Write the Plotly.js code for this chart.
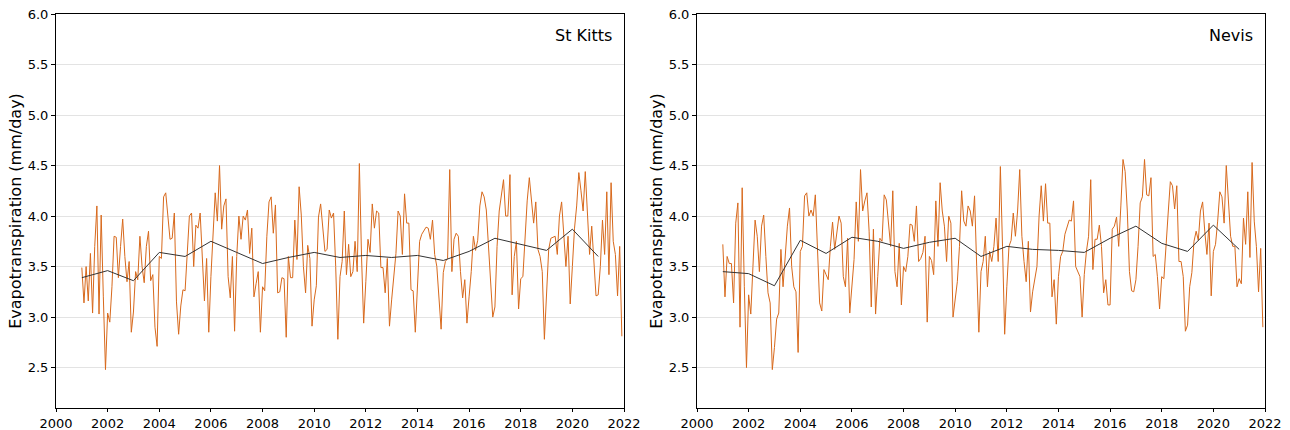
<!DOCTYPE html>
<html>
<head>
<meta charset="utf-8">
<script src="https://cdn.plot.ly/plotly-3.0.1.min.js"></script>
<style>html,body{margin:0;padding:0;background:#fff;}#chart{width:1290px;height:430px;}</style>
</head>
<body>
<div id="chart"></div>
<script>
const startYear = 2001;
const annualYears = [2001,2002,2003,2004,2005,2006,2007,2008,2009,2010,2011,2012,2013,2014,2015,2016,2017,2018,2019,2020,2021];

const stKittsMonthly = [
 3.49,3.14,3.5,3.16,3.63,3.04,3.7,4.1,3.03,4.01,3.2,2.48,
 3.04,2.95,3.3,3.8,3.79,3.39,3.7,3.97,3.6,3.35,3.55,2.85,
 3.05,3.45,3.37,3.8,3.5,3.34,3.7,3.85,3.36,3.42,2.9,2.71,
 3.6,3.58,4.19,4.23,4.0,3.77,3.78,4.03,3.15,2.83,3.11,3.27,
 3.26,3.6,4.0,4.03,3.5,3.91,3.88,4.03,3.6,3.16,3.58,2.85,
 3.4,3.9,4.23,3.95,4.5,3.87,4.1,4.17,3.4,3.19,3.6,2.86,
 3.6,4.0,3.77,4.0,3.96,4.06,3.63,3.88,3.2,3.33,3.45,2.85,
 3.3,3.26,3.8,4.14,4.19,3.83,4.11,3.24,3.25,3.39,3.38,2.8,
 3.6,3.39,3.39,3.96,3.57,4.29,4.01,3.5,3.24,3.71,3.58,2.91,
 3.17,3.31,3.99,4.12,3.9,3.65,3.67,4.06,3.98,4.03,3.5,2.78,
 3.4,3.55,4.05,3.42,3.72,3.4,3.45,3.75,3.45,4.52,3.6,2.94,
 3.35,3.77,3.64,4.12,3.88,4.05,4.03,3.49,3.49,3.24,3.58,2.91,
 3.17,3.37,3.63,4.05,4.0,3.62,4.22,3.93,3.93,3.27,3.26,2.85,
 3.37,3.75,3.82,3.85,3.89,3.88,3.77,3.96,3.62,3.5,3.18,2.88,
 3.44,3.55,3.58,4.46,3.45,3.77,3.83,3.8,3.45,3.19,3.37,2.94,
 3.2,3.45,3.8,3.66,3.76,4.1,4.24,4.19,4.06,3.7,3.27,3.0,
 3.1,3.7,4.05,4.19,4.36,4.0,4.0,4.41,3.22,3.6,3.75,3.08,
 3.38,3.4,3.85,4.15,4.38,4.12,3.93,4.14,3.67,3.6,3.45,2.78,
 3.2,3.67,3.78,3.79,3.8,3.62,4.0,4.14,3.85,3.5,3.8,3.13,
 3.5,3.88,4.1,4.43,4.25,4.05,4.44,4.0,3.62,3.9,3.5,3.21,
 3.22,3.5,3.96,3.62,4.24,3.42,4.33,3.75,3.62,3.21,3.7,2.81
];
const nevisMonthly = [
 3.72,3.2,3.6,3.53,3.53,3.14,3.93,4.13,2.9,4.28,3.3,2.5,
 3.22,3.03,3.5,3.96,3.8,3.45,3.9,4.01,3.6,3.24,3.14,2.48,
 2.7,2.98,3.04,3.67,3.3,3.65,3.9,4.08,3.5,3.3,3.25,2.65,
 3.65,3.7,4.2,4.23,4.0,4.06,4.0,4.21,3.7,3.14,3.06,3.47,
 3.42,3.37,3.7,3.94,3.67,3.85,4.0,3.93,3.4,3.3,3.78,3.04,
 3.35,3.57,4.14,3.75,4.46,4.05,4.15,4.23,3.85,3.1,3.87,3.03,
 3.4,3.78,3.75,4.21,4.16,3.95,3.7,4.25,3.45,3.3,3.73,3.12,
 3.5,3.45,3.6,3.92,3.91,3.75,4.1,3.55,3.58,3.64,3.8,2.95,
 3.6,3.56,3.42,4.15,3.7,4.33,4.05,3.9,3.55,4.0,3.93,3.0,
 3.2,3.35,3.7,4.25,3.95,3.9,4.1,4.05,3.9,4.2,3.5,2.85,
 3.45,3.55,3.8,3.3,3.65,3.55,3.7,3.98,3.55,4.49,3.7,2.83,
 3.3,3.7,3.76,4.03,3.8,4.05,4.46,3.8,3.55,3.35,3.75,3.05,
 3.25,3.4,3.5,4.0,4.3,3.95,4.32,3.93,3.93,3.2,3.37,2.93,
 3.4,3.6,3.65,3.82,3.88,3.96,3.95,4.15,3.5,3.45,3.4,3.0,
 3.42,3.65,3.8,4.36,3.47,3.77,3.77,3.91,3.7,3.24,3.37,3.12,
 3.12,3.87,3.9,3.99,3.7,4.1,4.56,4.44,4.05,3.45,3.26,3.25,
 3.37,3.7,4.13,4.19,4.56,4.21,4.2,4.38,3.6,3.62,3.4,3.08,
 3.4,3.38,3.75,4.03,4.34,4.3,4.07,4.3,3.55,3.55,3.4,2.86,
 2.92,3.3,3.44,3.75,3.85,3.76,4.05,4.14,3.85,3.62,3.93,3.21,
 3.65,3.72,3.95,4.24,4.19,3.93,4.5,4.2,3.8,3.7,3.7,3.3,
 3.38,3.33,3.98,3.72,4.24,3.59,4.53,3.95,3.7,3.25,3.68,2.9
];
const stKittsAnnual = [3.39,3.46,3.36,3.64,3.60,3.75,3.64,3.53,3.59,3.64,3.59,3.61,3.59,3.61,3.56,3.65,3.78,3.72,3.66,3.87,3.60];
const nevisAnnual = [3.45,3.43,3.31,3.76,3.63,3.79,3.75,3.68,3.74,3.78,3.60,3.70,3.67,3.66,3.64,3.78,3.90,3.73,3.65,3.91,3.67];

const panelNames = ["St Kitts", "Nevis"];
const xTicks = [2000,2002,2004,2006,2008,2010,2012,2014,2016,2018,2020,2022];
const yTicks = [2.5,3.0,3.5,4.0,4.5,5.0,5.5,6.0];
const yTitle = "Evapotranspiration (mm/day)";

const monthX = stKittsMonthly.map((_, i) => startYear + i / 12);

const orange = "#d8691c";
const traces = [
  {x: monthX, y: stKittsMonthly, type: "scatter", mode: "lines", line: {color: orange, width: 1}, xaxis: "x", yaxis: "y"},
  {x: annualYears, y: stKittsAnnual, type: "scatter", mode: "lines", line: {color: "#333333", width: 1}, xaxis: "x", yaxis: "y"},
  {x: monthX, y: nevisMonthly, type: "scatter", mode: "lines", line: {color: orange, width: 1}, xaxis: "x2", yaxis: "y2"},
  {x: annualYears, y: nevisAnnual, type: "scatter", mode: "lines", line: {color: "#333333", width: 1}, xaxis: "x2", yaxis: "y2"}
];

const font = "DejaVu Sans, Arial, sans-serif";
function xax(domain, anchor) {
  return {domain: domain, anchor: anchor, range: [2000, 2022], tickvals: xTicks, ticktext: xTicks.map(String),
    showgrid: false, zeroline: false, showline: true, mirror: true, linecolor: "#000", linewidth: 1,
    ticks: "outside", ticklen: 3, tickcolor: "#000", tickfont: {family: font, size: 13, color: "#000"}};
}
function yax(anchor) {
  return {anchor: anchor, range: [2.1, 6.0], tickvals: yTicks, ticktext: yTicks.map(v => v.toFixed(1)),
    showgrid: true, gridcolor: "#e3e3e3", gridwidth: 1, zeroline: false, showline: true, mirror: true,
    linecolor: "#000", linewidth: 1, ticks: "outside", ticklen: 4, tickcolor: "#000",
    tickfont: {family: font, size: 13, color: "#000"},
    title: {text: yTitle, font: {family: font, size: 16, color: "#000"}, standoff: 2}};
}

const W = 1290, ml = 56, mr = 25;
const pw = W - ml - mr;
const layout = {
  width: 1290, height: 430,
  margin: {l: ml, r: mr, t: 14, b: 22},
  paper_bgcolor: "#fff", plot_bgcolor: "#fff",
  showlegend: false,
  font: {family: font, color: "#000"},
  xaxis: xax([0, (624 - ml) / pw], "y"),
  yaxis: yax("x"),
  xaxis2: xax([(697 - ml) / pw, 1], "y2"),
  yaxis2: yax("x2"),
  annotations: [
    {text: panelNames[0], xref: "x domain", yref: "y domain", x: 0.982, y: 0.945, xanchor: "right", yanchor: "middle", showarrow: false, font: {family: font, size: 16, color: "#000"}},
    {text: panelNames[1], xref: "x2 domain", yref: "y2 domain", x: 0.982, y: 0.945, xanchor: "right", yanchor: "middle", showarrow: false, font: {family: font, size: 16, color: "#000"}}
  ]
};

Plotly.newPlot("chart", traces, layout, {displayModeBar: false, staticPlot: true});
</script>
</body>
</html>
